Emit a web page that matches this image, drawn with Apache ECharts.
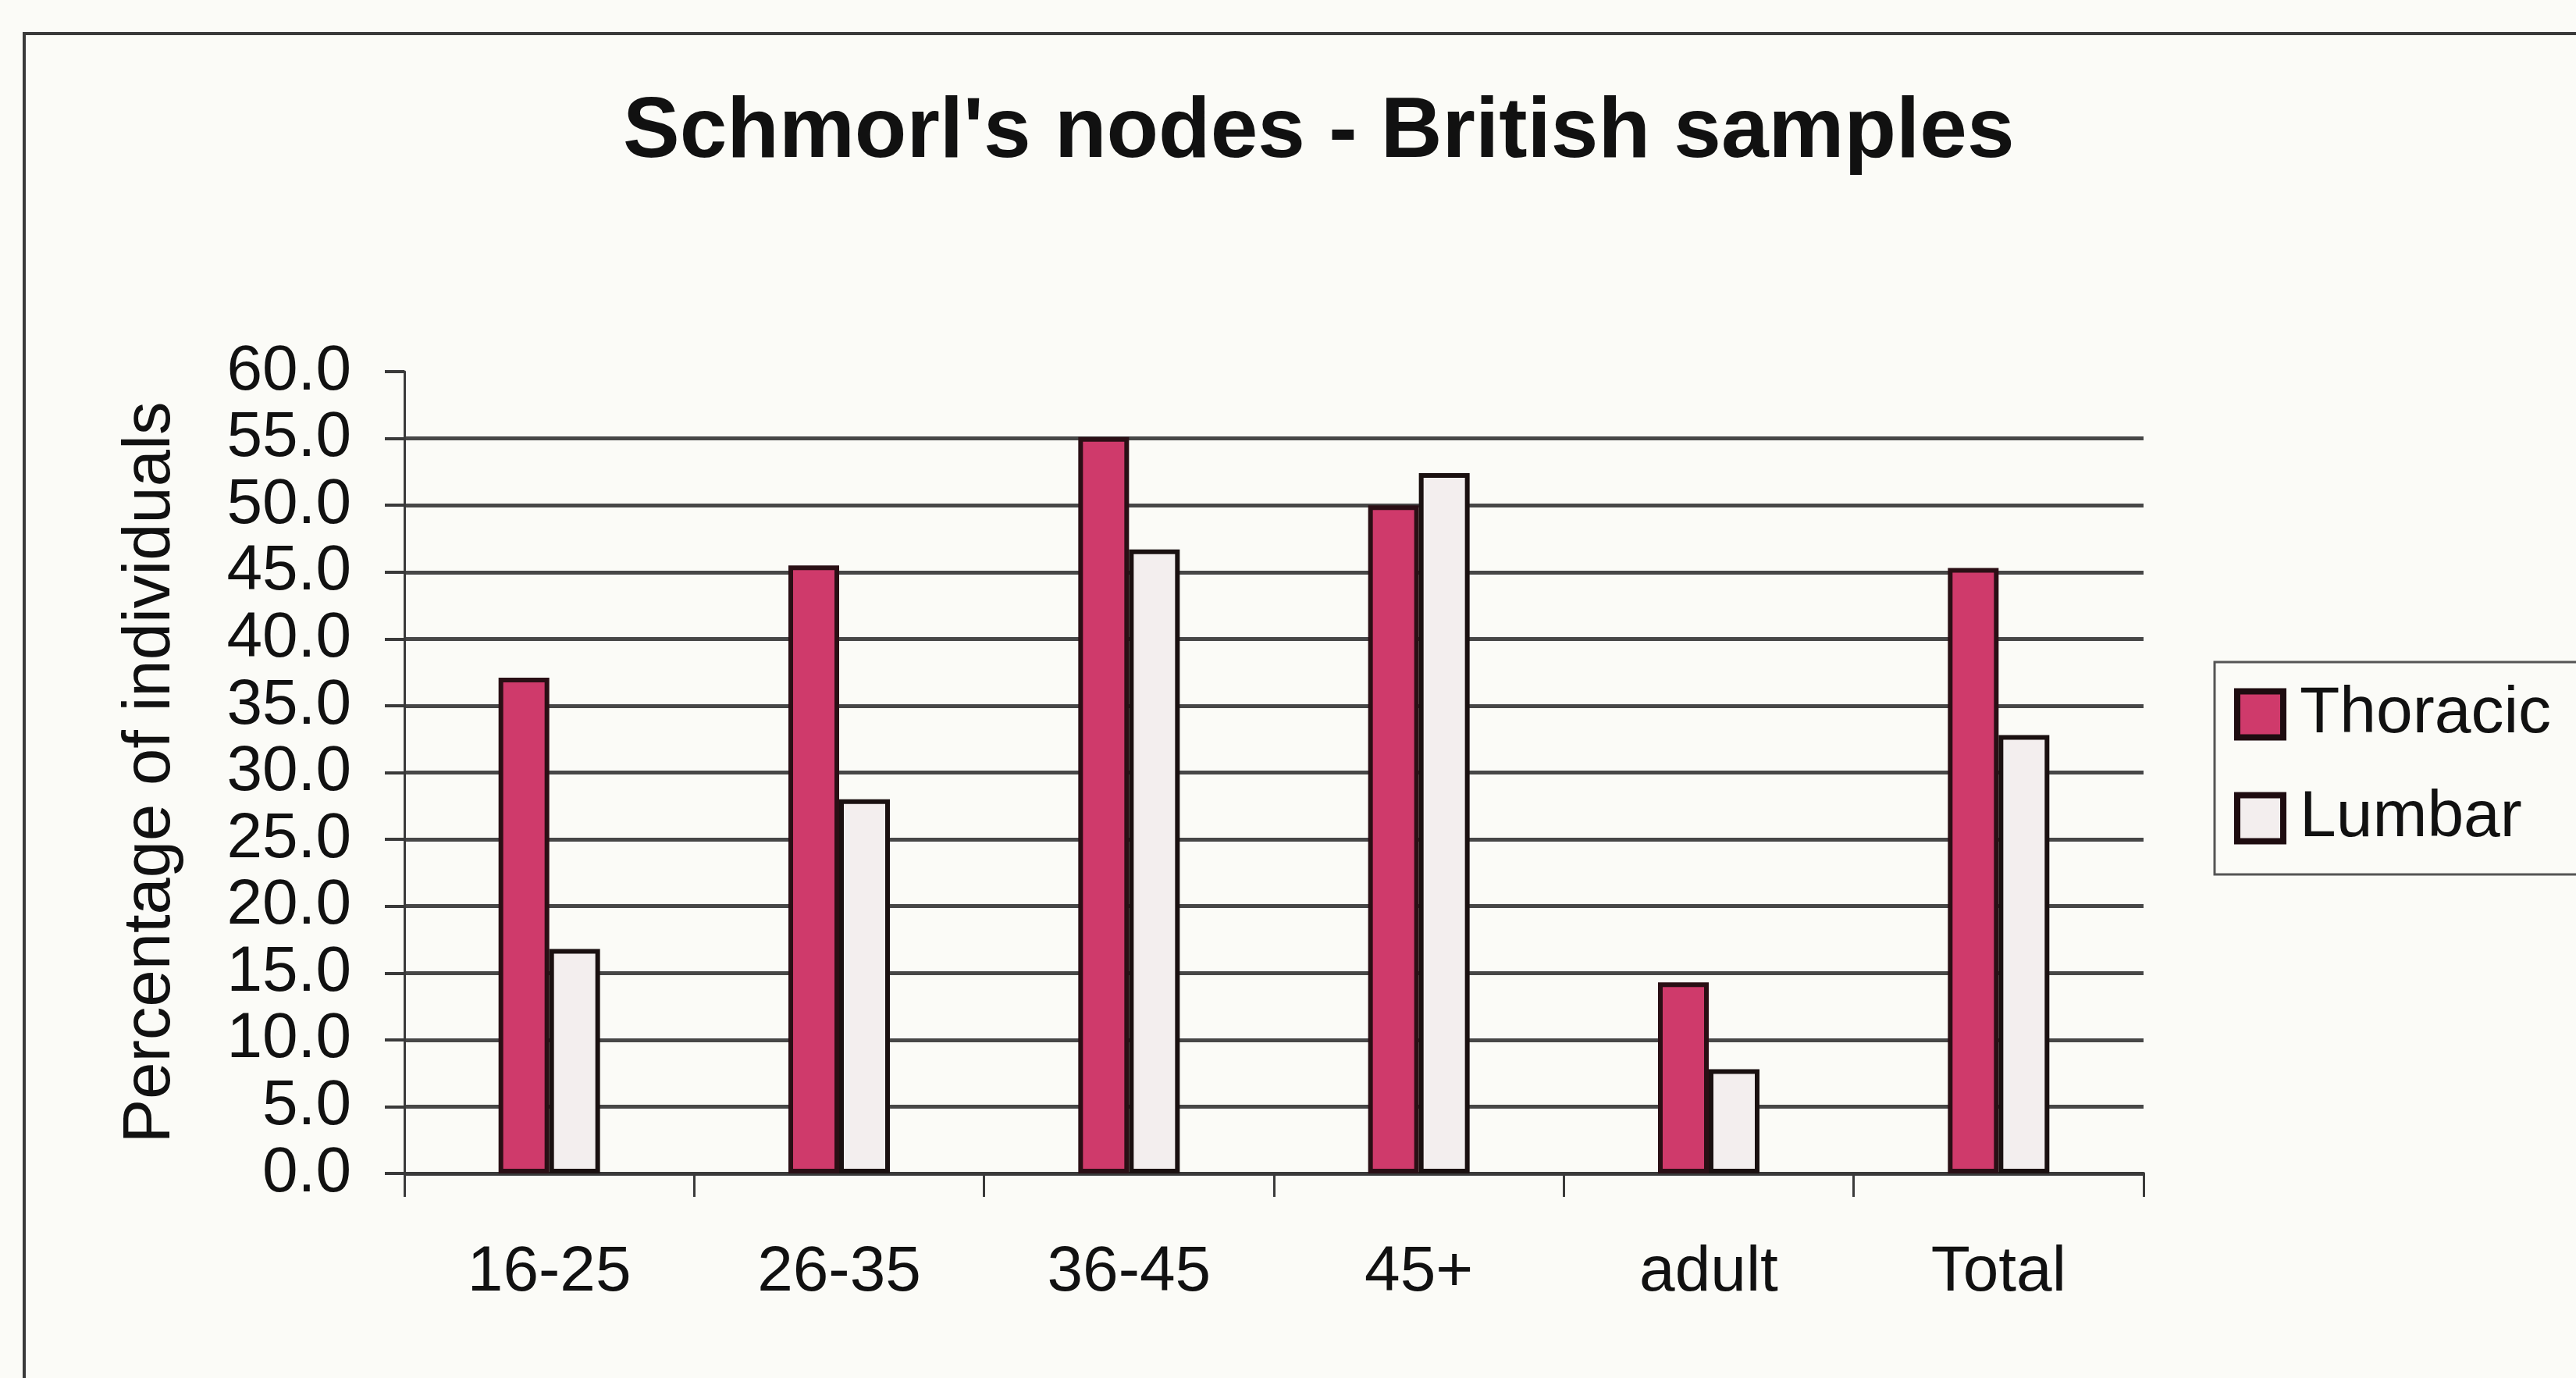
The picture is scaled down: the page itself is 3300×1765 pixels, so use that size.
<!DOCTYPE html>
<html>
<head>
<meta charset="utf-8">
<title>Schmorl's nodes - British samples</title>
<script src="https://cdn.jsdelivr.net/npm/echarts@6/dist/echarts.min.js"></script>
<style>
  html, body { margin: 0; padding: 0; background: #fbfbf7; }
  #chart { width: 3300px; height: 1765px; }
</style>
</head>
<body>
<div id="chart"></div>
<script>
// Age groups along the x axis
const categories = ['16-25', '26-35', '36-45', '45+', 'adult', 'Total'];
// Percentage of individuals with Schmorl's nodes, by spine region
const thoracic = [37.1, 45.5, 55.1, 50.0, 14.3, 45.3];
const lumbar = [16.8, 28.0, 46.7, 52.4, 7.8, 32.8];
// Value axis range
const yMin = 0;
const yMax = 60;
const yStep = 5;

const FONT = '"Liberation Sans", Arial, Helvetica, sans-serif';
const INK = '#111111';
const GRID_LINE = '#474747';

const chart = echarts.init(document.getElementById('chart'), null, { renderer: 'canvas' });

chart.setOption({
  backgroundColor: '#fbfbf7',
  animation: false,
  graphic: [{
    // outer chart frame
    type: 'rect',
    z: -1,
    shape: { x: 31, y: 43, width: 3400, height: 2000 },
    style: { fill: 'none', stroke: '#3a3a3a', lineWidth: 4 }
  }],
  title: {
    text: "Schmorl's nodes - British samples",
    left: 798,
    top: 116,
    padding: 0,
    textStyle: { fontFamily: FONT, fontSize: 109, fontWeight: 'bold', color: INK, lineHeight: 109 }
  },
  legend: {
    orient: 'vertical',
    left: 2837,
    top: 848,
    padding: [25, 80, 30, 25],
    itemGap: 49,
    itemWidth: 59,
    itemHeight: 59,
    icon: 'rect',
    backgroundColor: '#fbfbf7',
    borderColor: '#555555',
    borderWidth: 3,
    borderRadius: 0,
    itemStyle: { borderWidth: 8, borderColor: '#1e0c10' },
    textStyle: { fontFamily: FONT, fontSize: 84, color: INK, lineHeight: 84, padding: [0, 0, 0, 16] },
    data: ['Thoracic', 'Lumbar']
  },
  grid: { left: 518, right: 554, top: 476, bottom: 262, containLabel: false },
  xAxis: {
    type: 'category',
    data: categories,
    boundaryGap: true,
    axisLine: { show: true, lineStyle: { color: '#3a3a3a', width: 4 } },
    axisTick: { show: true, alignWithLabel: false, length: 30, lineStyle: { color: '#3a3a3a', width: 3 } },
    axisLabel: { fontFamily: FONT, fontSize: 82, color: INK, margin: 86, lineHeight: 82 },
    splitLine: { show: false }
  },
  yAxis: {
    type: 'value',
    min: yMin,
    max: yMax,
    interval: yStep,
    name: 'Percentage of individuals',
    nameLocation: 'middle',
    nameGap: 282,
    nameTextStyle: { fontFamily: FONT, fontSize: 85, color: INK },
    axisLine: { show: true, lineStyle: { color: '#3a3a3a', width: 3 } },
    axisTick: { show: true, inside: false, length: 25, lineStyle: { color: '#3a3a3a', width: 4 } },
    axisLabel: {
      fontFamily: FONT, fontSize: 82, color: INK, margin: 68,
      formatter: v => v.toFixed(1)
    },
    splitLine: { show: true, showMaxLine: false, lineStyle: { color: GRID_LINE, width: 5 } }
  },
  series: [
    {
      name: 'Thoracic',
      type: 'bar',
      data: thoracic,
      barWidth: 65,
      barGap: '0%',
      itemStyle: { color: '#cf3a6b', borderColor: '#2a0f15', borderWidth: 6 }
    },
    {
      name: 'Lumbar',
      type: 'bar',
      data: lumbar,
      barWidth: 65,
      barGap: '0%',
      itemStyle: { color: '#f3eeee', borderColor: '#1a1010', borderWidth: 6 }
    }
  ]
});
</script>
</body>
</html>
